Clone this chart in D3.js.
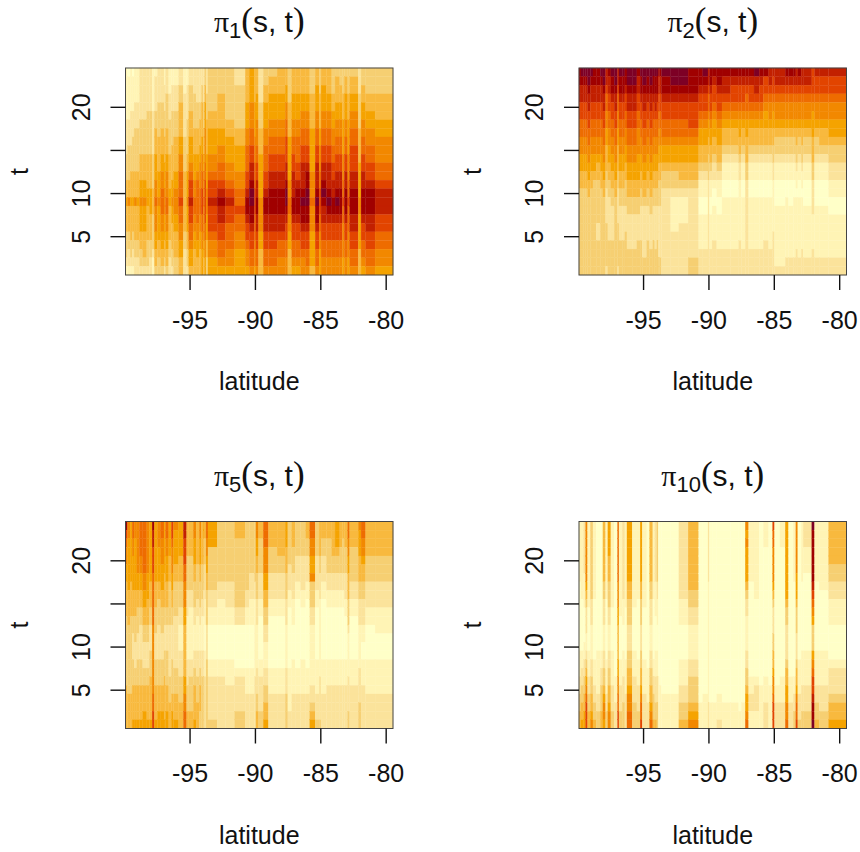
<!DOCTYPE html>
<html>
<head>
<meta charset="utf-8">
<script src="https://cdn.jsdelivr.net/npm/d3@7"></script>
<style>
body { margin: 0; background: #fff; }
text { font-family: "Liberation Sans", Arial, sans-serif; fill: #111; }
</style>
</head>
<body>
<div id="chart"></div>
<script>
// colour steps of the image, pale to dark
const LEVELS = ["#FFFFC8","#FFF4B5","#FBE39B","#F6CF72","#F8B93E","#F5A300","#F28800","#EE6C00","#E24400","#C22000","#A00000","#7D0025"];

// column edges, degrees
const lonEdges = [-99.90,-99.75,-99.54,-99.39,-99.24,-99.03,-98.83,-98.58,-98.27,-98.07,-97.86,-97.69,-97.46,-97.20,-96.95,-96.84,-96.59,-96.39,-96.23,-95.83,-95.47,-95.22,-95.06,-94.71,-94.50,-94.25,-94.10,-93.94,-93.84,-93.74,-93.59,-92.88,-92.26,-91.55,-90.74,-90.43,-90.03,-89.92,-89.72,-89.36,-88.96,-88.30,-87.68,-87.48,-87.18,-86.92,-86.51,-86.11,-85.80,-85.39,-85.09,-84.94,-84.53,-84.12,-83.87,-83.51,-83.31,-83.16,-82.90,-82.75,-82.09,-81.88,-81.53,-80.81,-79.44];

const xTicks = [-95, -90, -85, -80];
const yTicks = [5, 10, 15, 20];
const yLabels = [5, 10, 20];   // 15 is dropped in the original

// one string per column, one level per t, t = 24 first
const pi1 = [
"111111222233344544433321","011111222333344644433221","111112222333444544443321","011112223333444544433221",
"111122233333444644443322","111122233333444544443322","222222333344455655544332","222222333344455655544432",
"222223333344445544443332","222223333344445554443322","111112222233334443333211","122223344455566766655443",
"222233334444555655554433","222233344455667776655443","112223334445556665554432","222333344455666776655443",
"111222333344445544443322","112223333444455655444332","112223334444556665544433","223344445566777877665544",
"111222223333444444433222","112222333344555655544332","223334445556788988776554","222333344455566776655444",
"222233344455677777665544","222233444556667776655444","223344445566778887766555","222233344455666766665544",
"334455566667788888776655","222333444455556665554433","333334455566788988876655","333444455667789a99887765",
"333333445556678988777665","223333344555667787766555","444455566777889aa9887665","5555666778899abbaa988776",
"444455556667778887776665","444555666778899aa9988776","222233344455555666655444","334455566777889aa9988776",
"34455566778899aaa9988776","44455566778899aaa9987766","4455667788899abba9887766","333344445555566776655444",
"444555667788999aa9887765","44455566777889aaa9887765","44455667788999abaa988766","444556677889aabbaa988776",
"333444455555666766655554","44555667788999abaa988776","333444455666778887766555","4455566778899aba99887766",
"44455667788999aba9887766","333445566778899aa9887766","34445566778899aba9887766","33445566778899aaa9887766",
"333444555566677877666655","34455566778899aaa9887766","333444555566677877766655","34455667788899aaa9988776",
"222333344445555665555444","33445566778899aaa9887765","33344556677889aaa9988776","333444556667789998877665"
];
const pi2 = [
"aa9988776655443333333333","ba9988776655443333333333","ba9988776655443333333333","ba9988776655443333333333",
"bba998877665544333333333","ba9988776655443333333333","aa9988776655433333333333","aa9988776654433333223333",
"ba9988776655443333333333","bba998877665544333333333","998776655444332222333332","a99887766554433222223333",
"baa988776655443322223333","bba998877665544333333333","998776655444332222333332","baa988776655443322223333",
"baa988776655443322223333","aa9887766554433322233333","bba998877665544332222333","bba998877665544332222333",
"a99887766655544332223333","baa988776655443322223333","bba998877665544322222233","baa988776655443322223333",
"bba998877665544332222333","baa988776655443322223333","baa998776655443322222333","baa988776655443322223333",
"a99887766554433322222233","a99887766554433322222233","baa988776554332222222222","bba988776554332111122222",
"bba988776554432111222222","aaa988876554432222222233","aa9887655443211001111222","ba9887655443211001111222",
"998776554433322222222222","aa9887655443211001111222","a98876554432210011112222","aa9887655443211001111222",
"a99876544321100111111222","a98876544321100111111222","a98876554432211111112222","a98876544321100111111222",
"a98776554443322222222222","a98876544321100111111222","b99876544321100111111222","a98876544321100111111222",
"a88765544321100111112222","998766544321100111111222","988765544332211111122222","998766543321100011111112",
"998766543321100011111112","a98766543321100111111122","a98766543321100011111122","a98766543321100111111122",
"998766544332110111111222","a98766543321100111111122","998766544332110111111222","998766543321100011111122",
"888765554443322221111222","988766543321100011111122","988766544321100011111122","988766554332211001111122"
];
const pi5 = [
"a87665544443333333344444","665555554444333333334444","555555544443333333334444","776655554443322233344445",
"665555554443332223344445","666666554433322233344445","777766554433222233344445","777777665544332223344455",
"666666555444332223344445","555555544433222333444445","a99888777777666666667788","555555544433322233344445",
"666555544333222233344455","776665554433322233344455","555555444433222333444445","776655544433222333344455",
"555544433333222222333444","887666554433222233334455","655554433332222223334445","555544433322111222333444",
"998887766655444444556677","444433332221111122233344","444433332211111122333344","665554433322111223344445",
"444443333221111222333444","665554433322111223344433","444443333221111222333333","554443332221111222333333",
"443332222111000111222222","776655443333222233333333","555333332211000011222223","333333322111000011222222",
"333333322211000011122222","443333333322000001222233","333333332211000001112222","333333222111000001112222",
"333333322111111111222222","665544333222111112223344","443333222110000011222233","777666554433221112233445",
"444333222110000001112222","444433222110000001112222","555444333222111112223333","333332221100000001111122",
"444333222111000011112222","333322211000000001112222","333322221100000011112222","443322211000000001112222",
"776655633322111111122345","333322221100000011112223","444433222111111111222223","443322211000000011112222",
"443333221100000011122222","444433221100000011122222","555433221100000011122222","444333221100000011122222",
"443333221100000011122222","444333222110000011122222","776655444333211111222233","444333322110000011122222",
"655544433222111112222333","776654433222110011122222","444433322211000011112222","444433322211100011112222"
];
const pi10 = [
"111111100000000111223344","111111111000000112233445","222222111100001122334455","666666654322211234567888",
"111111111100000111223344","333333333222111122334456","111111111000000011122334","000000000000000111112233",
"000000000000000112233344","444444433222111223345665","111111111000000011112233","555544433322111223344566",
"111111111100000111122233","000000000000000000111222","777777766655444455667788","111111111110000011122233",
"222222222111000111222333","111111111100000011112222","555555544333222334456677","111111111100000111222333",
"111111111000000011122233","555555544333222334456778","111111111100000011112222","000000000000000001111222",
"444444433222111223344567","111111111000000011223334","222222211110000111222334","333333322111000111222333",
"000000000000000000111111","000000000000000000011111","000000000000000000001111","000000000000000000001111",
"222222222111000011122334","444444443322111122333456","000000000000000000000111","000000000000000000001111",
"222222211111111111111222","000000000000000000000111","000000000000000000000111","000000000000000000001112",
"000000000000000000000111","000000000000000000000111","000000000000000000000011","000000000000000000000111",
"656555543221111223345567","111111100000000000112211","111111111000000000122211","000000000000000000011111",
"111000000000000000111222","000000000000000000011111","877666654322233445667888","000000000000000000011222",
"111000000000000000111222","555555555433222234455667","000000000000000000111222","111111100000000000112233",
"666666555433322234456778","000000000000000011112223","111111100000000111122233","222111000000000111122233",
"baaaaaa98765333567889aab","111111100000000111122334","111111110000000111122233","444443322111000012223445"
];

const subs = [1, 2, 5, 10];

const WIDTH = 860;
const HEIGHT = 852;
const PLOT_W = 267.5;
const PLOT_H = 207;
const LEFT = [125.5, 579];
const TOP = [68, 521.5];

var canvas = d3.select("#chart").append("svg")
               .attr("width", WIDTH)
               .attr("height", HEIGHT);

var colour = d3.scaleOrdinal().domain(d3.range(LEVELS.length)).range(LEVELS);

var x = d3.scaleLinear().domain([lonEdges[0], lonEdges[lonEdges.length - 1]]).range([0, PLOT_W]);
var y = d3.scaleLinear().domain([0.5, 24.5]).range([PLOT_H, 0]);

function drawPanel(cols, sub, left, top) {
    var g = canvas.append("g").attr("transform", "translate(" + left + "," + top + ")");

    // flatten the strings into cells
    var cells = [];
    cols.forEach(function (col, i) {
        col.split("").forEach(function (ch, j) {
            cells.push({col: i, t: 24 - j, level: parseInt(ch, 16)});
        });
    });

    g.selectAll("rect.cell")
     .data(cells)
     .enter()
     .append("rect")
     .attr("class", "cell")
     .attr("x", function (d) {return x(lonEdges[d.col]);})
     .attr("width", function (d) {return x(lonEdges[d.col + 1]) - x(lonEdges[d.col]);})
     .attr("y", function (d) {return y(d.t + 0.5);})
     .attr("height", function (d) {return y(d.t - 0.5) - y(d.t + 0.5);})
     .attr("fill", function (d) {return colour(d.level);})
     .attr("stroke", function (d) {return colour(d.level);})
     .attr("stroke-width", 0.3);

    g.append("rect")
     .attr("width", PLOT_W)
     .attr("height", PLOT_H)
     .attr("fill", "none")
     .attr("stroke", "#444")
     .attr("stroke-width", 1);

    // plain hyphen on the labels, like the original
    var xAxis = d3.axisBottom(x).tickValues(xTicks).tickSize(15).tickPadding(21).tickFormat(String);
    var gx = g.append("g").attr("transform", "translate(0," + PLOT_H + ")").call(xAxis);
    gx.select(".domain").remove();
    gx.selectAll("line").attr("stroke", "#111").attr("stroke-width", 1.4);
    gx.selectAll("text")
      .attr("font-size", "25px")
      .attr("font-family", "Liberation Sans")
      .attr("fill", "#111");

    var yAxis = d3.axisLeft(y).tickValues(yTicks).tickSize(15)
                  .tickFormat(function (d) {return yLabels.indexOf(d) >= 0 ? d : "";});
    var gy = g.append("g").call(yAxis);
    gy.select(".domain").remove();
    gy.selectAll("line").attr("stroke", "#111").attr("stroke-width", 1.4);
    gy.selectAll("text")
      .attr("transform", "rotate(-90)")
      .attr("x", 0)
      .attr("y", -36)
      .attr("dy", 0)
      .attr("text-anchor", "middle")
      .attr("font-size", "25px")
      .attr("font-family", "Liberation Sans")
      .attr("fill", "#111");

    g.append("text")
     .attr("x", PLOT_W / 2)
     .attr("y", PLOT_H + 115)
     .attr("text-anchor", "middle")
     .attr("font-size", "25px")
     .text("latitude");

    g.append("text")
     .attr("transform", "translate(-98," + (PLOT_H / 2) + ") rotate(-90)")
     .attr("text-anchor", "middle")
     .attr("font-size", "25px")
     .text("t");

    // title, pi and the brackets are serif as in plotmath
    var title = g.append("text")
                 .attr("x", PLOT_W / 2)
                 .attr("y", -36)
                 .attr("text-anchor", "middle")
                 .attr("font-size", "30px");
    title.append("tspan").attr("font-family", "Liberation Serif").text("π");
    title.append("tspan").attr("font-size", "22px").attr("dy", 6).text(sub);
    title.append("tspan").attr("font-family", "Liberation Serif").attr("font-size", "35px").attr("dy", -6).text("(");
    title.append("tspan").text("s, t");
    title.append("tspan").attr("font-family", "Liberation Serif").attr("font-size", "35px").text(")");
}

drawPanel(pi1, subs[0], LEFT[0], TOP[0]);
drawPanel(pi2, subs[1], LEFT[1], TOP[0]);
drawPanel(pi5, subs[2], LEFT[0], TOP[1]);
drawPanel(pi10, subs[3], LEFT[1], TOP[1]);
</script>
</body>
</html>
